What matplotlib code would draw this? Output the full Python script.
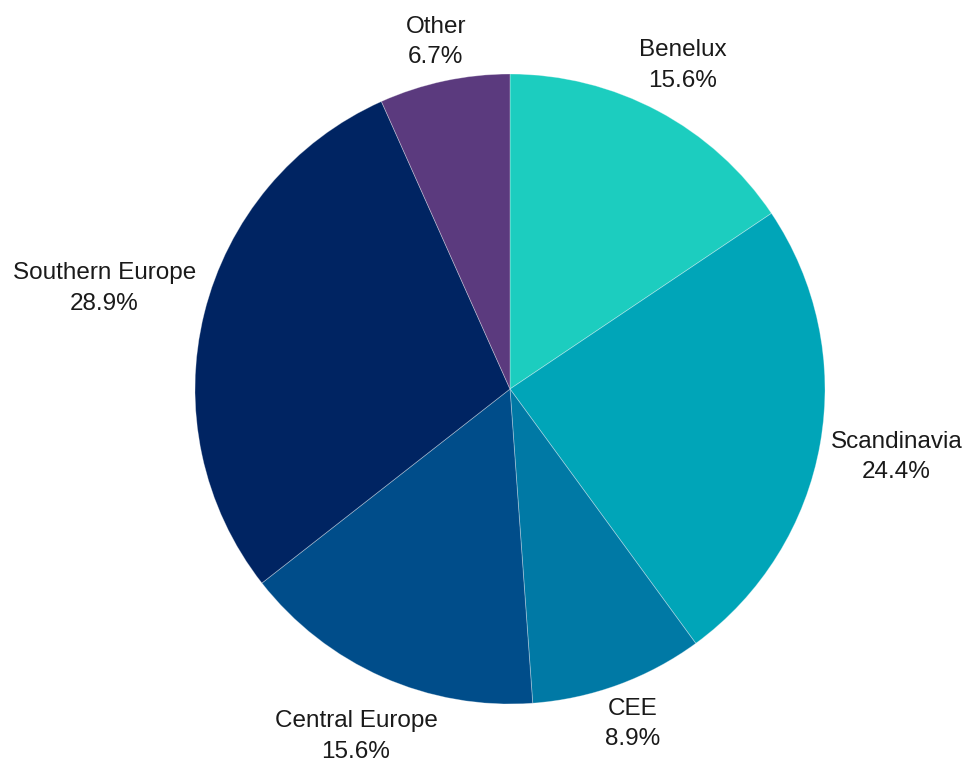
import numpy as np
import matplotlib.pyplot as plt

# Regional split, clockwise from 12 o'clock
regions = ["Benelux", "Scandinavia", "CEE", "Central Europe", "Southern Europe", "Other"]
shares = [15.6, 24.4, 8.9, 15.6, 28.9, 6.7]
colors = ["#1ccdbf", "#00a5b8", "#0079a5", "#004d8a", "#002462", "#5b3a7e"]

plt.rcParams['font.family'] = ['Liberation Sans', 'DejaVu Sans']

fig = plt.figure(figsize=(9.68, 7.65), dpi=100)
ax = fig.add_axes([0, 0, 1, 1])

wedges, _ = ax.pie(
    shares,
    colors=colors,
    startangle=90,
    counterclock=False,
    radius=1.0,
    wedgeprops=dict(edgecolor=(1, 1, 1, 0.35), linewidth=0.6),
)

# pie centre at (510, 389) px, radius 315 px (set after pie, which resets limits)
R = 315.0
ax.set_xlim(-510 / R, (968 - 510) / R)
ax.set_ylim(-(765 - 389) / R, 389 / R)
ax.set_aspect('equal')
ax.axis('off')

texts = []
for w, name, val in zip(wedges, regions, shares):
    mid = np.deg2rad((w.theta1 + w.theta2) / 2)
    t = ax.text(0, 0, f"{name}\n{val:.1f}%", ha='center', va='center',
                fontsize=17.5, color='#1a1a1a', linespacing=1.5)
    texts.append((t, mid))

# label centre sits on the mid-angle ray, its box just clear of the rim
fig.canvas.draw()
inv = ax.transData.inverted()
for t, mid in texts:
    bb = t.get_window_extent().transformed(inv)
    c, s = np.cos(mid), np.sin(mid)
    r = 1.025 + abs(c) * bb.width / 2 + abs(s) * bb.height / 2
    t.set_position((r * c, r * s))

fig.savefig("out.png", dpi=100)
